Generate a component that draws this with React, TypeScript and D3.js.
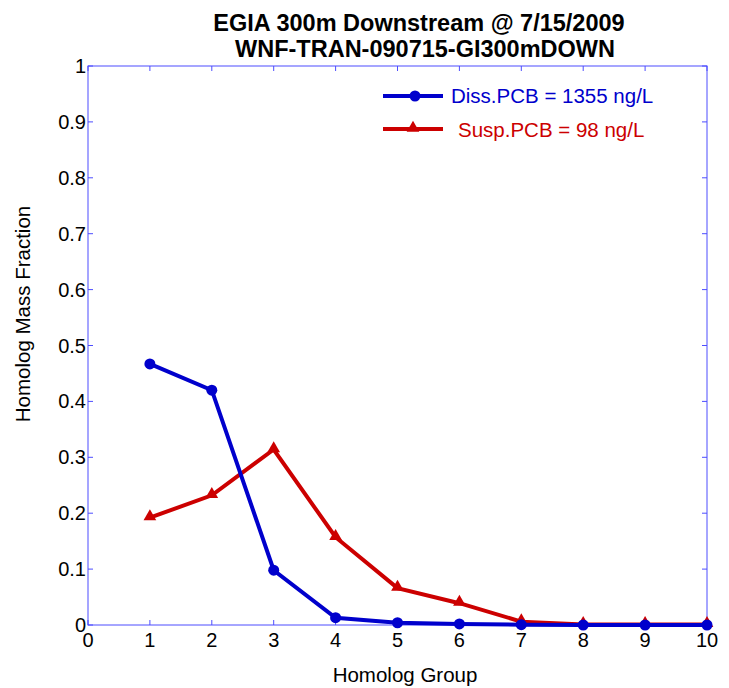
import React from "react";
import * as d3 from "d3";

const groups = [1, 2, 3, 4, 5, 6, 7, 8, 9, 10];
const dissValues = [0.467, 0.42, 0.098, 0.013, 0.004, 0.002, 0.0005, 0, 0, 0];
const suspValues = [0.192, 0.232, 0.314, 0.157, 0.066, 0.039, 0.006, 0.001, 0.001, 0.001];
const xTicks = [0, 1, 2, 3, 4, 5, 6, 7, 8, 9, 10];
const yTicks = [0, 0.1, 0.2, 0.3, 0.4, 0.5, 0.6, 0.7, 0.8, 0.9, 1];
const titleLines = ["EGIA 300m Downstream @ 7/15/2009", "WNF-TRAN-090715-GI300mDOWN"];
const legendLabels = ["Diss.PCB = 1355 ng/L", "Susp.PCB = 98 ng/L"];

const W = 729, H = 688;
const left = 88, right = 707, top = 66, bottom = 625;
const font = "Arial, 'Liberation Sans', sans-serif";
const BLUE = "#0000cc";
const RED = "#cc0000";
const AXIS = "#4d4dff";

export default function App() {
  const x = d3.scaleLinear().domain([0, 10]).range([left, right]);
  const y = d3.scaleLinear().domain([0, 1]).range([bottom, top]);
  const line = d3.line<number>().x((_, i) => x(groups[i])).y((d) => y(d));
  const tri = d3.symbol().type(d3.symbolTriangle).size(70)() as string;

  return (
    <svg width={W} height={H} style={{ position: "absolute", left: 0, top: 0 }} fontFamily={font}>
      <rect width={W} height={H} fill="white" />
      {titleLines.map((t, i) => (
        <text key={i} x={i === 0 ? 419 : 425} y={31 + i * 26} textAnchor="middle" fontSize={23.5} fontWeight="bold" fill="#000">{t}</text>
      ))}
      <rect x={left} y={top} width={right - left} height={bottom - top} fill="none" stroke={AXIS} strokeWidth={1} />
      {xTicks.map((t) => (
        <g key={"x" + t}>
          <line x1={x(t)} x2={x(t)} y1={bottom} y2={bottom - 5} stroke={AXIS} />
          <line x1={x(t)} x2={x(t)} y1={top} y2={top + 5} stroke={AXIS} />
          <text x={x(t)} y={bottom + 22} textAnchor="middle" fontSize={20} fill="#000">{t}</text>
        </g>
      ))}
      {yTicks.map((t) => (
        <g key={"y" + t}>
          <line x1={left} x2={left + 5} y1={y(t)} y2={y(t)} stroke={AXIS} />
          <line x1={right} x2={right - 5} y1={y(t)} y2={y(t)} stroke={AXIS} />
          <text x={left - 2} y={y(t) + 7} textAnchor="end" fontSize={20} fill="#000">{t === 0 || t === 1 ? String(t) : d3.format(".1f")(t)}</text>
        </g>
      ))}
      <text x={405} y={682} textAnchor="middle" fontSize={20.5} fill="#000">Homolog Group</text>
      <text transform={`translate(30, 314) rotate(-90)`} textAnchor="middle" fontSize={20.5} fill="#000">Homolog Mass Fraction</text>

      <path d={line(suspValues) || ""} fill="none" stroke={RED} strokeWidth={4} strokeLinejoin="miter" />
      {suspValues.map((v, i) => (
        <path key={"s" + i} d={tri} transform={`translate(${x(groups[i])},${y(v) - 1})`} fill={RED} />
      ))}
      <path d={line(dissValues) || ""} fill="none" stroke={BLUE} strokeWidth={4} strokeLinejoin="miter" />
      {dissValues.map((v, i) => (
        <circle key={"d" + i} cx={x(groups[i])} cy={y(v)} r={5.5} fill={BLUE} />
      ))}

      <line x1={383} x2={443} y1={96} y2={96} stroke={BLUE} strokeWidth={4} />
      <circle cx={415} cy={96} r={5.5} fill={BLUE} />
      <text x={451} y={103} fontSize={20.5} fill={BLUE}>{legendLabels[0]}</text>
      <line x1={383} x2={443} y1={129} y2={129} stroke={RED} strokeWidth={4} />
      <path d={tri} transform={`translate(413,128)`} fill={RED} />
      <text x={458} y={137} fontSize={20.5} fill={RED}>{legendLabels[1]}</text>
    </svg>
  );
}
